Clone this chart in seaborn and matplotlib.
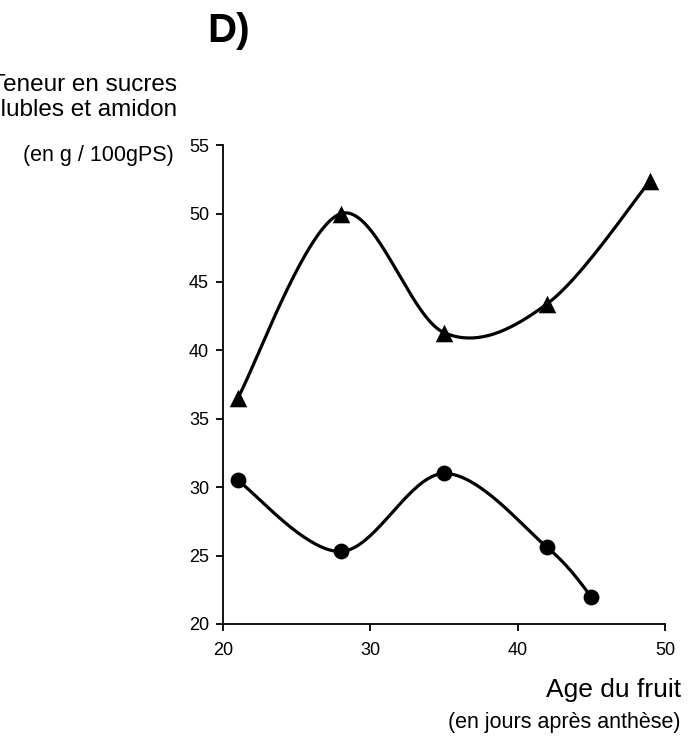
import numpy as np
import pandas as pd
import seaborn as sns
import matplotlib
matplotlib.use("Agg")
import matplotlib.pyplot as plt

sns.set_style("white")
plt.rcParams['font.family'] = ['Liberation Sans', 'DejaVu Sans']
plt.rcParams['text.color'] = 'black'
plt.rcParams['xtick.color'] = 'black'
plt.rcParams['ytick.color'] = 'black'

# Data
age_tri = [21, 28, 35, 42, 49]
val_tri = [36.5, 50.0, 41.3, 43.4, 52.4]
age_circ = [21, 28, 35, 42, 45]
val_circ = [30.5, 25.3, 31.0, 25.6, 22.0]
xticks = [20, 30, 40, 50]
yticks = [20, 25, 30, 35, 40, 45, 50, 55]


def smooth(x, y, n=40):
    x = np.asarray(x, float); y = np.asarray(y, float)
    P = np.column_stack([x, y])
    out = []
    for i in range(len(P) - 1):
        p0 = P[i - 1] if i > 0 else P[i]
        p1 = P[i]; p2 = P[i + 1]
        p3 = P[i + 2] if i + 2 < len(P) else P[i + 1]
        c1 = p1 + (p2 - p0) / 6.0
        c2 = p2 - (p3 - p1) / 6.0
        t = np.linspace(0, 1, n)[:, None]
        seg = ((1 - t) ** 3) * p1 + 3 * ((1 - t) ** 2) * t * c1 + 3 * (1 - t) * t ** 2 * c2 + t ** 3 * p2
        out.append(seg if i == 0 else seg[1:])
    s = np.vstack(out)
    return s[:, 0], s[:, 1]


fig = plt.figure(figsize=(6.96, 7.40), dpi=100)
ax = fig.add_axes([0.3204, 0.1568, 0.635, 0.647])

for xs, ys, mk, ms in [(age_tri, val_tri, '^', 160), (age_circ, val_circ, 'o', 130)]:
    sx, sy = smooth(xs, ys)
    df = pd.DataFrame({'x': sx, 'y': sy})
    sns.lineplot(data=df, x='x', y='y', sort=False, estimator=None, color='black', lw=2.3, ax=ax)
    sns.scatterplot(x=xs, y=ys, marker=mk, s=ms, color='black', edgecolor='black', linewidth=0, ax=ax, zorder=5)

ax.set_xlim(20, 50)
ax.set_ylim(20, 55)
ax.set_xticks(xticks)
ax.set_yticks(yticks)
ax.set_xlabel('')
ax.set_ylabel('')
sns.despine(ax=ax)
for s in ['left', 'bottom']:
    ax.spines[s].set_color('black')
    ax.spines[s].set_linewidth(1.3)
ax.tick_params(axis='both', direction='out', length=5, width=1.3, color='black', labelsize=13, labelcolor='black',
               left=True, bottom=True)
ax.tick_params(axis='x', pad=8)
ax.tick_params(axis='y', pad=5)

fig.text(0.328, 0.958, 'D)', fontsize=29, fontweight='bold', ha='center', va='center')
fig.text(0.254, 0.885, 'Teneur en sucres', fontsize=17.5, ha='right', va='center')
fig.text(0.254, 0.851, 'solubles et amidon', fontsize=17.5, ha='right', va='center')
fig.text(0.250, 0.790, '(en g / 100gPS)', fontsize=15.5, ha='right', va='center')
fig.text(0.978, 0.068, 'Age du fruit', fontsize=19, ha='right', va='center')
fig.text(0.978, 0.024, '(en jours après anthèse)', fontsize=15.5, ha='right', va='center')

fig.savefig('out.png', dpi=100)
